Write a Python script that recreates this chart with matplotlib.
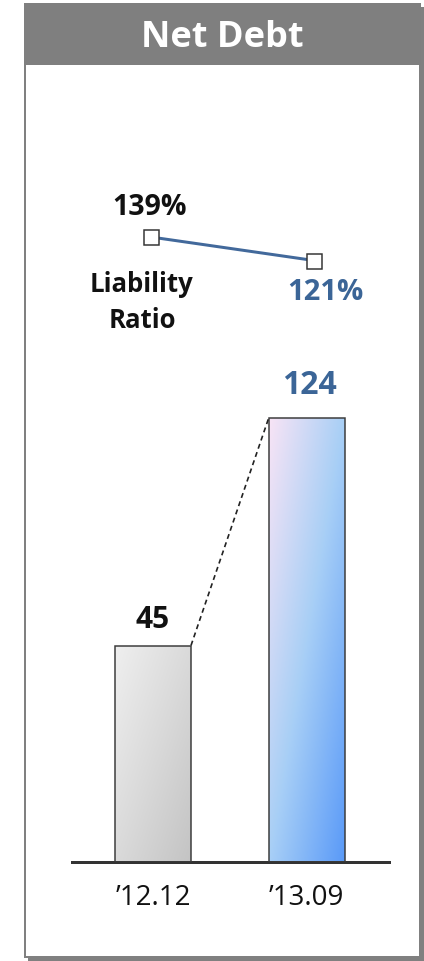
import matplotlib
matplotlib.use('Agg')
import matplotlib.pyplot as plt
import numpy as np
from matplotlib.patches import Rectangle
from matplotlib.colors import LinearSegmentedColormap

# ---------------- data ----------------
title = "Net Debt"
periods = ["\u201912.12", "\u201913.09"]
net_debt = [45, 124]
liability_ratio = [139, 121]
ratio_label = ["Liability", "Ratio"]

# ---------------- setup ----------------
W, H, DPI = 424, 962, 100
PT = 72 / DPI  # points per pixel
plt.rcParams['font.family'] = ['Open Sans', 'DejaVu Sans']
fig = plt.figure(figsize=(W / DPI, H / DPI), dpi=DPI)

BLUE_TXT = '#3B6597'
LINE_BLUE = '#42699B'
GRAY = '#808080'


def rect(x0, y0, x1, y1, **kw):
    r = Rectangle((x0 / W, 1 - y1 / H), (x1 - x0) / W, (y1 - y0) / H,
                  transform=fig.transFigure, **kw)
    fig.patches.append(r)
    return r


# frame: shadow, box, header
rect(28, 8, 424, 962, facecolor=GRAY, edgecolor='none', zorder=-3)
rect(25, 5, 419.5, 957.5, facecolor='white', edgecolor=GRAY, lw=2 * PT, zorder=-2)
rect(24, 4, 421, 66, facecolor='#7F7F7F', edgecolor='none', zorder=-1)
fig.text(222.5 / W, 1 - 46.7 / H, title, color='white', fontsize=26,
         fontweight='bold', ha='center', va='baseline', zorder=3)

# ---------------- bar axes ----------------
base = -30.0
ax_l, ax_r, ax_b, ax_t = 72, 389, 862.5, 380
c0, c1 = 153.0, 306.7
unit = c1 - c0
scale = 2.88  # px per value unit
ax = fig.add_axes([ax_l / W, 1 - ax_b / H, (ax_r - ax_l) / W, (ax_b - ax_t) / H])
ax.set_zorder(5)
ax.set_xlim((ax_l - c0) / unit, (ax_r - c0) / unit)
ax.set_ylim(base, base + (ax_b - ax_t) / scale)
ax.patch.set_visible(False)
for s in ['top', 'left', 'right']:
    ax.spines[s].set_visible(False)
ax.spines['bottom'].set_color('#333333')
ax.spines['bottom'].set_linewidth(3 * PT)
ax.set_yticks([])
xs = np.arange(len(periods))
ax.set_xticks(xs, periods)
ax.tick_params(axis='x', length=0, pad=15.5, labelsize=20, labelcolor='#111111')

bw = 76 / unit
bars = ax.bar(xs, [v - base for v in net_debt], bottom=base, width=bw,
              facecolor='none', edgecolor='#3A3A3A', linewidth=1.5 * PT, zorder=3)

cmaps = [LinearSegmentedColormap.from_list('g', ['#EFEFEF', '#DADADA', '#C4C4C4']),
         LinearSegmentedColormap.from_list('b', ['#F8E4F5', '#A8CFF6', '#5A9AF8'])]
ny, nx = 300, 80
X, Y = np.meshgrid(np.linspace(0, 1, nx), np.linspace(0, 1, ny))
grad = (X + Y) / 2
for i, b in enumerate(bars):
    x0 = b.get_x()
    im = ax.imshow(grad, cmap=cmaps[i], vmin=0, vmax=1, origin='upper',
                   extent=(x0, x0 + bw, base, net_debt[i]), aspect='auto',
                   zorder=2, interpolation='bilinear')
    im.set_clip_path(b)

# dashed connector
ax.plot([xs[0] + bw / 2, xs[1] - bw / 2], [net_debt[0], net_debt[1]],
        ls=(0, (3, 2.2)), color='#222222', lw=1.2, zorder=4)

# value labels
val_offsets = [(-0.5, 19), (3, 24.5)]
val_colors = ['#111111', BLUE_TXT]
val_sizes = [21.5, 23]
for i, v in enumerate(net_debt):
    ax.annotate(str(v), xy=(xs[i], v), xytext=(val_offsets[i][0] * PT, val_offsets[i][1] * PT),
                textcoords='offset points', ha='center', va='baseline',
                fontsize=val_sizes[i], fontweight='bold', color=val_colors[i])

# ---------------- line axes ----------------
p0, p1 = 150.8, 314.0
lunit = p1 - p0
lax_l, lax_r, lax_t, lax_b = 100, 365, 180, 320
lscale = 23.5 / 18.0
lax = fig.add_axes([lax_l / W, 1 - lax_b / H, (lax_r - lax_l) / W, (lax_b - lax_t) / H])
lax.set_zorder(5)
lax.set_xlim((lax_l - p0) / lunit, (lax_r - p0) / lunit)
lax.set_ylim(liability_ratio[1] - (lax_b - 261.5) / lscale,
             liability_ratio[0] + (238 - lax_t) / lscale)
lax.axis('off')
lax.plot(xs, liability_ratio, color=LINE_BLUE, lw=3 * PT, marker='s',
         markersize=15 * PT, markerfacecolor='white', markeredgecolor='#333333',
         markeredgewidth=1.5 * PT, zorder=3)

lax.annotate(f"{liability_ratio[0]}%", xy=(xs[0], liability_ratio[0]),
             xytext=(-0.8 * PT, 23 * PT), textcoords='offset points',
             ha='center', va='baseline', fontsize=20.5, fontweight='bold', color='#111111')
lax.annotate(f"{liability_ratio[1]}%", xy=(xs[1], liability_ratio[1]),
             xytext=(11 * PT, -38.5 * PT), textcoords='offset points',
             ha='center', va='baseline', fontsize=21, fontweight='bold', color=BLUE_TXT)
for j, line in enumerate(ratio_label):
    lax.annotate(line, xy=(xs[0], liability_ratio[0]),
                 xytext=((-9 + 0.8 * j) * PT, -(53.7 + 36.3 * j) * PT),
                 textcoords='offset points', ha='center', va='baseline',
                 fontsize=18.5, fontweight='bold', color='#111111', annotation_clip=False)

fig.savefig('out.png', dpi=DPI)
